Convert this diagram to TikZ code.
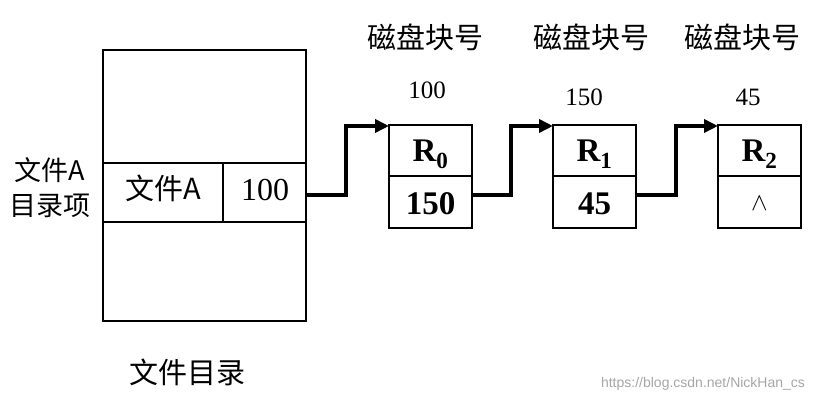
\documentclass[tikz,border=0pt]{standalone}
\usepackage{amsmath}
\usepackage{fontspec}
\setmainfont{Liberation Serif}
\newfontfamily\cjk{Noto Sans CJK SC}
\newfontfamily\wm{Liberation Sans}
\usetikzlibrary{arrows.meta}
\begin{document}
\begin{tikzpicture}[x=1pt,y=-1pt,
  box/.style={draw,line width=1.2pt},
  link/.style={line width=3.5pt,-{Triangle[length=14pt,width=13pt]}},
  cn/.style={font=\cjk\fontsize{29}{34}\selectfont},
  num/.style={font=\fontsize{25}{28}\selectfont},
  bnum/.style={font=\bfseries\fontsize{33}{36}\selectfont}]
\useasboundingbox (0,0) rectangle (822,403);
% directory
\draw[box] (103,50) rectangle (306,321);
\draw[box] (103,163) -- (306,163) (103,222) -- (306,222) (223,163) -- (223,222);
\node[cn] (fa) at (163,188) {文件A};
\node[num,font=\fontsize{32}{34}\selectfont] (p) at (265,190) {100};
\node[cn,font=\cjk\fontsize{27}{35}\selectfont,align=center] (lab) at (50,188) {文件A\\目录项};
\node[cn] (dir) at (187,372) {文件目录};
% blocks
\foreach \n/\x/\r/\v in {0/389/R$_\mathbf{0}$/150,1/553/R$_\mathbf{1}$/45,2/718/R$_\mathbf{2}$/{\fontsize{26}{28}\selectfont$\wedge$}}{
  \draw[box] (\x,125) rectangle ++(83,103);
  \draw[box] (\x,176) -- ++(83,0);
  \coordinate (in\n) at (\x,126);
  \coordinate (out\n) at (\x+83,195);
  \node[bnum] (r\n) at (\x+41.5,154) {\r};
  \node[bnum] (v\n) at (\x+41.5,204) {\v};
}
\coordinate (s) at (306,195);
\draw[link] (s) -- (346,195) -- (346,126) -- (in0);
\draw[link] (out0) -- (511,195) -- (511,126) -- (in1);
\draw[link] (out1) -- (676,195) -- (676,126) -- (in2);
\node[cn] (h0) at (425,37) {磁盘块号};
\node[cn] (h1) at (591,37) {磁盘块号};
\node[cn] (h2) at (742,37) {磁盘块号};
\node[num] (n0) at (427,90) {100};
\node[num] (n1) at (584,97) {150};
\node[num] (n2) at (748,97) {45};
\node[font=\wm\fontsize{14}{15}\selectfont,text=black!35] (w) at (703,384) {https://blog.csdn.net/NickHan\_cs};
\end{tikzpicture}
\end{document}
